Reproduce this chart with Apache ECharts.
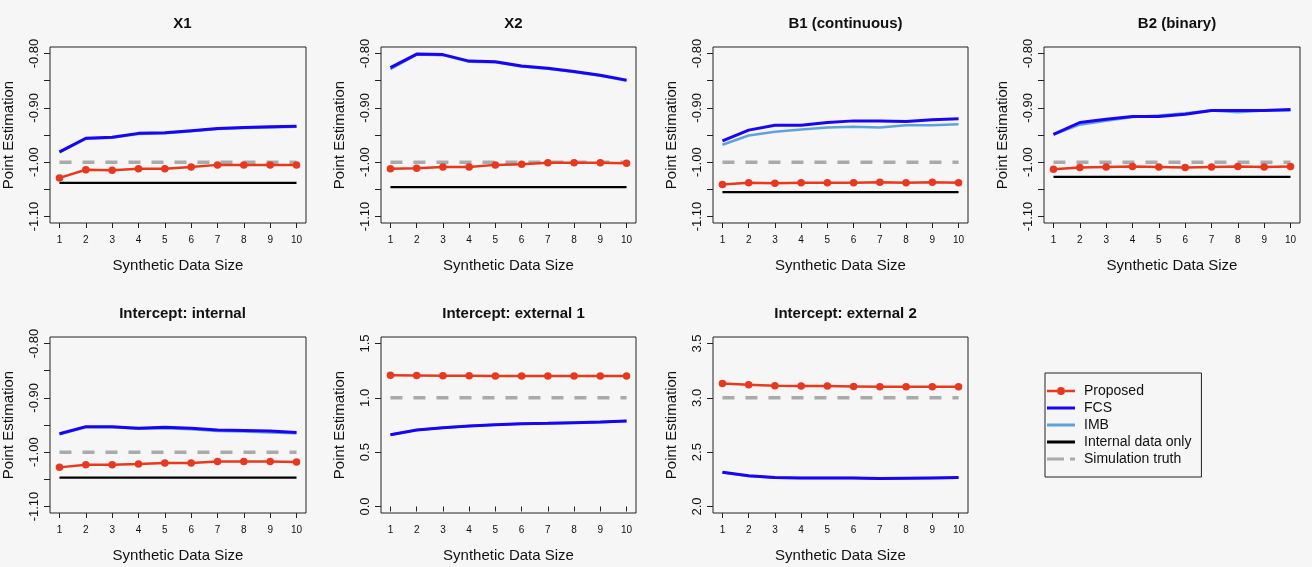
<!DOCTYPE html>
<html>
<head>
<meta charset="utf-8">
<title>Point Estimation by Synthetic Data Size</title>
<script src="https://cdn.jsdelivr.net/npm/echarts@6/dist/echarts.min.js"></script>
<style>
    html, body { margin: 0; padding: 0; background: #f6f6f6; }
    #chart { width: 1312px; height: 567px; }
</style>
</head>
<body>
<div id="chart"></div>
<script>
// x axis: synthetic data size
const xTicks = [1, 2, 3, 4, 5, 6, 7, 8, 9, 10];

// tick values for the y axes
const coefTicks = [-1.10, -1.05, -1.00, -0.95, -0.90, -0.85, -0.80];
const coefLabels = [-1.10, -1.00, -0.90, -0.80];
const ext1Ticks = [0.0, 0.5, 1.0, 1.5];
const ext2Ticks = [2.0, 2.5, 3.0, 3.5];

const panelTitles = ["X1", "X2", "B1 (continuous)", "B2 (binary)",
    "Intercept: internal", "Intercept: external 1", "Intercept: external 2"];

// Proposed
const proposedX1 = [-1.029, -1.014, -1.015, -1.012, -1.012, -1.009, -1.005, -1.005, -1.005, -1.005];
const proposedX2 = [-1.012, -1.011, -1.009, -1.009, -1.005, -1.004, -1.001, -1.001, -1.001, -1.002];
const proposedB1 = [-1.041, -1.038, -1.039, -1.038, -1.038, -1.038, -1.037, -1.038, -1.037, -1.038];
const proposedB2 = [-1.013, -1.010, -1.009, -1.008, -1.009, -1.010, -1.009, -1.008, -1.009, -1.008];
const proposedInt = [-1.028, -1.023, -1.023, -1.022, -1.020, -1.020, -1.017, -1.017, -1.017, -1.018];
const proposedExt1 = [1.209, 1.206, 1.203, 1.203, 1.200, 1.200, 1.200, 1.200, 1.200, 1.200];
const proposedExt2 = [3.133, 3.120, 3.111, 3.108, 3.108, 3.105, 3.102, 3.102, 3.102, 3.102];

// FCS
const fcsX1 = [-0.981, -0.956, -0.954, -0.947, -0.946, -0.942, -0.938, -0.936, -0.935, -0.934];
const fcsX2 = [-0.826, -0.801, -0.802, -0.814, -0.815, -0.823, -0.827, -0.833, -0.840, -0.849];
const fcsB1 = [-0.961, -0.941, -0.932, -0.932, -0.927, -0.924, -0.924, -0.925, -0.922, -0.920];
const fcsB2 = [-0.949, -0.927, -0.921, -0.916, -0.916, -0.912, -0.905, -0.905, -0.905, -0.903];
const fcsInt = [-0.966, -0.953, -0.953, -0.956, -0.954, -0.956, -0.959, -0.960, -0.961, -0.964];
const fcsExt1 = [0.661, 0.704, 0.725, 0.741, 0.753, 0.762, 0.765, 0.771, 0.777, 0.787];
const fcsExt2 = [2.315, 2.282, 2.266, 2.263, 2.263, 2.263, 2.257, 2.260, 2.263, 2.266];

// IMB
const imbX1 = [-0.982, -0.957, -0.955, -0.948, -0.947, -0.943, -0.939, -0.937, -0.936, -0.935];
const imbX2 = [-0.829, -0.802, -0.803, -0.815, -0.816, -0.824, -0.828, -0.834, -0.841, -0.850];
const imbB1 = [-0.968, -0.951, -0.944, -0.940, -0.936, -0.935, -0.936, -0.932, -0.932, -0.930];
const imbB2 = [-0.949, -0.931, -0.924, -0.917, -0.914, -0.910, -0.905, -0.908, -0.905, -0.905];
const imbInt = [-0.967, -0.954, -0.954, -0.957, -0.956, -0.958, -0.961, -0.962, -0.964, -0.965];
const imbExt1 = [0.660, 0.703, 0.724, 0.740, 0.752, 0.761, 0.764, 0.770, 0.776, 0.786];
const imbExt2 = [2.314, 2.281, 2.265, 2.262, 2.262, 2.262, 2.256, 2.259, 2.262, 2.265];

// Internal data only (null = off the plotted range)
const internalOnly = [-1.038, -1.046, -1.055, -1.027, -1.047, null, null];

// Simulation truth
const simTruth = [-1.00, -1.00, -1.00, -1.00, -1.00, 1.0, 3.0];

const proposed = [proposedX1, proposedX2, proposedB1, proposedB2, proposedInt, proposedExt1, proposedExt2];
const fcs = [fcsX1, fcsX2, fcsB1, fcsB2, fcsInt, fcsExt1, fcsExt2];
const imb = [imbX1, imbX2, imbB1, imbB2, imbInt, imbExt1, imbExt2];

const COLORS = {
    proposed: "#e8391f",
    fcs: "#1a05f2",
    imb: "#5ea2dc",
    internal: "#000000",
    truth: "#aaaaaa"
};
const FONT = "Liberation Sans, Arial, Helvetica, sans-serif";

// legend icons drawn like R's legend samples
const ICON_LINE = "path://M0,0 L28,0 L28,3 L0,3 Z";
const ICON_DASH = "path://M0,0 L17,0 L17,3 L0,3 Z M23,0 L28,0 L28,3 L23,3 Z";
const ICON_POINT_LINE = "path://M0,3 L10,3 L10,5.5 L0,5.5 Z M18,3 L28,3 L28,5.5 L18,5.5 Z M10,4.25 A4,4 0 1,1 18,4.25 A4,4 0 1,1 10,4.25 Z";

// plot box of each panel, in pixels
const panelBoxes = [
    { left: 49, top: 47, width: 257, height: 176 },
    { left: 381, top: 47, width: 255, height: 176 },
    { left: 713, top: 47, width: 255, height: 176 },
    { left: 1044, top: 47, width: 256, height: 176 },
    { left: 49, top: 337, width: 257, height: 176 },
    { left: 381, top: 337, width: 255, height: 176 },
    { left: 713, top: 337, width: 255, height: 176 }
];

function yAxisSetup(i) {
    if (i === 5) {
        return { min: -0.06, max: 1.56, ticks: ext1Ticks, labels: ext1Ticks, digits: 1 };
    }
    if (i === 6) {
        return { min: 1.94, max: 3.56, ticks: ext2Ticks, labels: ext2Ticks, digits: 1 };
    }
    return { min: -1.112, max: -0.788, ticks: coefTicks, labels: coefLabels, digits: 2 };
}

function pairs(values) {
    return xTicks.map((x, k) => [x, values[k]]);
}

const grids = [];
const xAxes = [];
const yAxes = [];
const titles = [];
const series = [];

panelBoxes.forEach(function (box, i) {
    const ySet = yAxisSetup(i);
    grids.push({
        left: box.left,
        top: box.top,
        width: box.width,
        height: box.height,
        show: true,
        borderColor: "#222",
        borderWidth: 1,
        backgroundColor: "transparent"
    });
    titles.push({
        text: panelTitles[i],
        left: box.left + box.width / 2,
        top: box.top - 36,
        textAlign: "center",
        textStyle: { fontFamily: FONT, fontSize: 15, fontWeight: "bold", color: "#111" }
    });
    xAxes.push({
        type: "value",
        gridIndex: i,
        min: 0.64,
        max: 10.36,
        name: "Synthetic Data Size",
        nameLocation: "middle",
        nameGap: 35,
        nameTextStyle: { fontFamily: FONT, fontSize: 15, color: "#111" },
        axisLine: { show: false },
        axisTick: {
            show: true,
            inside: false,
            length: 5,
            customValues: xTicks,
            lineStyle: { color: "#222" }
        },
        axisLabel: {
            customValues: xTicks,
            margin: 12,
            fontFamily: FONT,
            fontSize: 10,
            color: "#111"
        },
        splitLine: { show: false }
    });
    yAxes.push({
        type: "value",
        gridIndex: i,
        min: ySet.min,
        max: ySet.max,
        name: "Point Estimation",
        nameLocation: "middle",
        nameGap: 34,
        nameTextStyle: { fontFamily: FONT, fontSize: 15, color: "#111" },
        axisLine: { show: false },
        axisTick: {
            show: true,
            inside: false,
            length: 6,
            customValues: ySet.ticks,
            lineStyle: { color: "#222" }
        },
        axisLabel: {
            customValues: ySet.labels,
            rotate: 90,
            margin: 9,
            fontFamily: FONT,
            fontSize: 13,
            color: "#111",
            formatter: v => Number(v).toFixed(ySet.digits)
        },
        splitLine: { show: false }
    });

    series.push({
        name: "IMB",
        type: "line",
        xAxisIndex: i,
        yAxisIndex: i,
        data: pairs(imb[i]),
        showSymbol: false,
        symbol: "none",
        lineStyle: { color: COLORS.imb, width: 2.5 },
        itemStyle: { color: COLORS.imb },
        z: 2
    });
    series.push({
        name: "FCS",
        type: "line",
        xAxisIndex: i,
        yAxisIndex: i,
        data: pairs(fcs[i]),
        showSymbol: false,
        symbol: "none",
        lineStyle: { color: COLORS.fcs, width: 3 },
        itemStyle: { color: COLORS.fcs },
        z: 3
    });
    if (internalOnly[i] !== null) {
        series.push({
            name: "Internal data only",
            type: "line",
            xAxisIndex: i,
            yAxisIndex: i,
            data: [[xTicks[0], internalOnly[i]], [xTicks[xTicks.length - 1], internalOnly[i]]],
            showSymbol: false,
            symbol: "none",
            lineStyle: { color: COLORS.internal, width: 2.2 },
            itemStyle: { color: COLORS.internal },
            z: 2
        });
    }
    series.push({
        name: "Simulation truth",
        type: "line",
        xAxisIndex: i,
        yAxisIndex: i,
        data: [[xTicks[0], simTruth[i]], [xTicks[xTicks.length - 1], simTruth[i]]],
        showSymbol: false,
        symbol: "none",
        lineStyle: { color: COLORS.truth, width: 3.5, type: [12, 11] },
        itemStyle: { color: COLORS.truth },
        z: 2
    });
    series.push({
        name: "Proposed",
        type: "line",
        xAxisIndex: i,
        yAxisIndex: i,
        data: pairs(proposed[i]),
        symbol: "circle",
        symbolSize: 7.5,
        showSymbol: true,
        lineStyle: { color: COLORS.proposed, width: 2.5 },
        itemStyle: { color: COLORS.proposed },
        z: 4
    });
});

const chart = echarts.init(document.getElementById("chart"), null, { renderer: "canvas" });
chart.setOption({
    backgroundColor: "#f6f6f6",
    animation: false,
    title: titles,
    grid: grids,
    xAxis: xAxes,
    yAxis: yAxes,
    legend: {
        data: [
            { name: "Proposed", icon: ICON_POINT_LINE },
            { name: "FCS", icon: ICON_LINE },
            { name: "IMB", icon: ICON_LINE },
            { name: "Internal data only", icon: ICON_LINE },
            { name: "Simulation truth", icon: ICON_DASH }
        ],
        orient: "vertical",
        left: 1045,
        top: 373,
        padding: [11, 10, 11, 2],
        itemGap: 3,
        itemWidth: 28,
        itemHeight: 14,
        symbolKeepAspect: true,
        borderColor: "#222",
        borderWidth: 1,
        borderRadius: 0,
        textStyle: { fontFamily: FONT, fontSize: 14, color: "#111", padding: [0, 0, 0, 4] }
    },
    series: series
});

window.addEventListener("resize", () => chart.resize());
</script>
</body>
</html>
